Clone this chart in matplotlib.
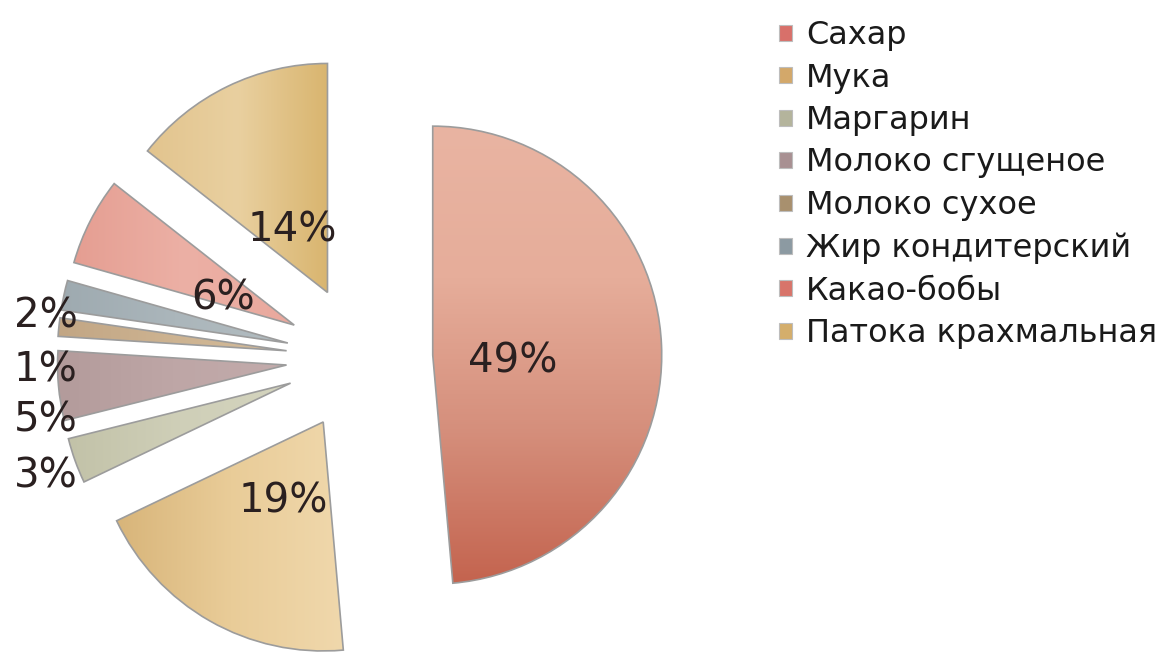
import numpy as np
import matplotlib.pyplot as plt
import matplotlib.patches as mpatches
from matplotlib.colors import LinearSegmentedColormap

labels = ['Сахар', 'Мука', 'Маргарин', 'Молоко сгущеное', 'Молоко сухое',
          'Жир кондитерский', 'Какао-бобы', 'Патока крахмальная']
shares = [48.6, 19.3, 3.2, 4.9, 1.3, 2.1, 6.2, 14.4]

# slice shading: colours along a gradient and its direction (degrees)
shades = [
    (['#E9B4A2', '#E6AD9A', '#D58F7C', '#C4644F'], -90),
    (['#D8B57A', '#E9CC98', '#F0D8AC'], 0),
    (['#C2C2A8', '#CFCFB8', '#D4D4BE'], 0),
    (['#B39B9B', '#BEA6A6', '#C2ABAB'], 0),
    (['#C2A684', '#CDB391', '#D3BB9A'], 0),
    (['#9EAAB0', '#ABB6BB', '#B2BCC0'], 0),
    (['#E59E92', '#ECB0A5', '#E9A89D'], 0),
    (['#E2C48E', '#E9D0A0', '#D9B56F'], 0),
]
swatches = ['#D8706A', '#D3A86A', '#B4B49C', '#A89092', '#A8906E',
            '#8C9AA2', '#D8746A', '#D4AE6C']

plt.rcParams['font.family'] = ['DejaVu Sans']

fig = plt.figure(figsize=(11.69, 6.56), dpi=100)
ax = fig.add_axes([0, 0, 1, 1])

wedges, texts, autotexts = ax.pie(
    shares, startangle=90, counterclock=False, explode=[0.32] * len(shares),
    radius=1, autopct='%.0f%%', pctdistance=0.35,
    wedgeprops=dict(edgecolor='#9c9c9c', linewidth=1.2),
    textprops=dict(fontsize=29, color='#2a2020'))

for w, (cols, ang) in zip(wedges, shades):
    x0, y0, x1, y1 = w.get_path().get_extents().extents
    xx, yy = np.meshgrid(np.linspace(x0, x1, 200), np.linspace(y1, y0, 200))
    a = np.deg2rad(ang)
    t = xx * np.cos(a) + yy * np.sin(a)
    t = (t - t.min()) / (t.max() - t.min())
    cmap = LinearSegmentedColormap.from_list('g', cols)
    im = ax.imshow(t, cmap=cmap, extent=(x0, x1, y0, y1), aspect='auto',
                   interpolation='bilinear', zorder=1)
    im.set_clip_path(w)
    w.set_facecolor('none')
    w.set_zorder(2)

# small slices: labels stacked outside on the left
small_y = {5: 0.182, 4: -0.053, 3: -0.273, 2: -0.515}
for i, t in enumerate(autotexts):
    t.set_zorder(5)
    if i in small_y:
        t.set_position((-1.37, small_y[i]))
    else:
        px, py = t.get_position()
        t.set_position((px, py - 0.044))

handles = [mpatches.Patch(facecolor=c, edgecolor='#bdbdbd', linewidth=0.8)
           for c in swatches]
fig.legend(handles, labels, loc='upper left',
           bbox_to_anchor=(779 / 1169, 1 - 20 / 656), frameon=False,
           fontsize=23, handlelength=0.4, handleheight=0.4,
           handletextpad=0.45, labelspacing=0.36, borderpad=0, borderaxespad=0,
           labelcolor='#1a1a1a')

ax.set_aspect('auto')
ax.set_xlim(-1.570, 3.535)
ax.set_ylim(-1.300, 1.565)
ax.axis('off')

fig.savefig('out.png', dpi=100, facecolor='white')
